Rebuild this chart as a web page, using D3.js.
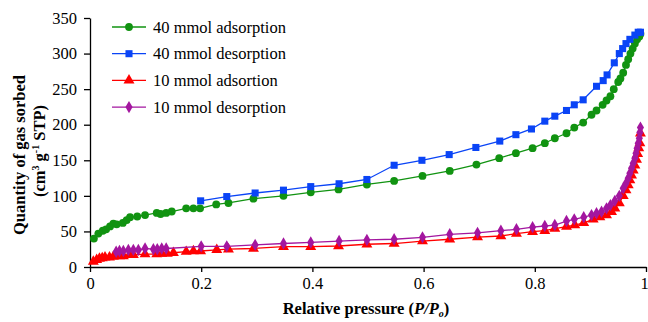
<!DOCTYPE html>
<html><head><meta charset="utf-8">
<script src="https://cdn.jsdelivr.net/npm/d3@7"></script>
<style>body{margin:0;background:#fff}svg{display:block}</style>
</head><body><div id="c"></div>
<script>
const xTicks=[0,0.2,0.4,0.6,0.8,1];
const xTickLabels=["0","0.2","0.4","0.6","0.8","1"];
const yTicks=[0,50,100,150,200,250,300,350];
const seriesNames=["40 mmol adsorption","40 mmol desorption","10 mmol adsorption","10 mmol desorption"];
const legendLabels=["40 mmol adsorption","40 mmol desorption","10 mmol adsortion","10 mmol desorption"];

const ads40P=[0.007,0.015,0.023,0.029,0.036,0.042,0.048,0.059,0.066,0.072,0.085,0.099,0.12,0.127,0.137,0.147,0.173,0.186,0.198,0.227,0.249,0.294,0.348,0.397,0.447,0.498,0.547,0.598,0.647,0.695,0.736,0.766,0.796,0.818,0.836,0.857,0.871,0.887,0.902,0.911,0.922,0.929,0.936,0.942,0.950,0.954,0.959,0.964,0.968,0.972,0.976,0.980,0.984,0.988,0.990];
const ads40V=[40,47,51,53,57,61,60,62,66,70,71,73,76,74.5,76,78,82.5,82.5,82.5,88,90,96,100,105,109,116,121,128,135,144,153,160,167,174,181,188,196,203,214,220,228,234,240,250,260,265,273,284,292,300,307,314,320,324,328];

const des40P=[0.199,0.246,0.297,0.348,0.397,0.448,0.498,0.547,0.597,0.646,0.694,0.737,0.766,0.794,0.818,0.836,0.857,0.871,0.887,0.911,0.923,0.930,0.943,0.952,0.958,0.964,0.971,0.980,0.986,0.990];
const des40V=[93,99,104,108,113,117,123,143,150,158,168,177,186,194,205,212,220,228,235,254,262,270,287,300,307,314,320,326,330,330];

const ads10P=[0.006,0.012,0.017,0.022,0.027,0.035,0.042,0.053,0.060,0.071,0.078,0.099,0.120,0.129,0.139,0.150,0.173,0.186,0.199,0.228,0.249,0.294,0.348,0.397,0.447,0.498,0.547,0.598,0.647,0.697,0.739,0.767,0.796,0.818,0.836,0.857,0.872,0.888,0.905,0.917,0.929,0.938,0.944,0.952,0.959,0.964,0.968,0.971,0.974,0.977,0.980,0.983,0.985,0.987,0.989,0.990];
const ads10V=[7.5,10,12,12.5,13.6,13.6,14.5,15.5,15.5,17,17,18,18,19,19,20,21.5,22.5,22.5,24,25,26,28.5,28.5,29.5,32,33,36.5,39,42,43.6,47,49.6,51,54,56.7,59,62,67,70,73,77.7,82.5,90,100,108,115,122,129,136,143,151,159,167,174,188];

const des10P=[0.047,0.053,0.060,0.069,0.078,0.087,0.099,0.114,0.121,0.129,0.137,0.200,0.246,0.297,0.348,0.397,0.448,0.498,0.547,0.598,0.647,0.697,0.739,0.767,0.796,0.818,0.836,0.857,0.871,0.888,0.902,0.911,0.920,0.929,0.936,0.944,0.952,0.959,0.964,0.968,0.971,0.974,0.977,0.980,0.982,0.984,0.986,0.988,0.989,0.990];
const des10V=[21.5,22.5,22.5,24,24,24,26,25,25,26,26,29,29,31,33,34.5,36.5,38,39,41.7,46,48,51,53,56,57.6,59,64.6,67,70,73,75.5,77.7,82.5,87,93,100,110.6,117.6,124.7,131.7,138.7,145.8,152.8,159.8,166.8,174,181,189,196];

const colors=["#119311","#0a44f6","#ff0000","#a3169f"];
const shapes=[d3.symbolCircle,d3.symbolSquare,d3.symbolTriangle,d3.symbolDiamond];
const sizes=[48,50,52,44];
const FONT="'Liberation Serif', 'Times New Roman', Times, serif";
const FS="16.5px";

const W=648,H=322,m={l:90};
const svg=d3.select("#c").append("svg").attr("width",W).attr("height",H).style("font-family",FONT);
const x=d3.scaleLinear().domain([0,1]).range([m.l,646]);
const y=d3.scaleLinear().domain([0,350]).range([267,18]);

const data=[[ads40P,ads40V],[des40P,des40V],[ads10P,ads10V],[des10P,des10V]].map((s,i)=>({name:seriesNames[i],pts:s[0].map((p,j)=>[p,s[1][j]])}));

const xa=svg.append("g").attr("transform","translate(0,267)").call(d3.axisBottom(x).tickValues(xTicks).tickFormat((d,i)=>xTickLabels[i]).tickSize(5).tickSizeOuter(0).tickPadding(5));
const ya=svg.append("g").attr("transform",`translate(${m.l},0)`).call(d3.axisLeft(y).tickValues(yTicks).tickSize(6).tickSizeOuter(0).tickPadding(7));
[xa,ya].forEach(a=>{a.attr("font-family",null).attr("font-size",null);a.selectAll("path,line").attr("stroke","#000").attr("stroke-width",1.3);a.selectAll("text").attr("fill","#000").style("font-family",FONT).style("font-size",FS);});
xa.selectAll(".tick:last-of-type text").attr("dx",-2);

const line=d3.line().x(d=>x(d[0])).y(d=>y(d[1]));
[2,3,0,1].forEach(i=>{
  const g=svg.append("g");
  g.append("path").datum(data[i].pts).attr("d",line).attr("fill","none").attr("stroke",colors[i]).attr("stroke-width",1.3);
  g.selectAll("path.m").data(data[i].pts).enter().append("path").attr("class","m")
    .attr("transform",d=>`translate(${x(d[0])},${y(d[1])})`)
    .attr("d",d3.symbol().type(shapes[i]).size(sizes[i])).attr("fill",colors[i]);
});

const lg=svg.append("g");
legendLabels.forEach((t,i)=>{
  const yy=27+i*26.7;
  lg.append("line").attr("x1",112).attr("x2",146).attr("y1",yy).attr("y2",yy).attr("stroke",colors[i]).attr("stroke-width",1.3);
  lg.append("path").attr("transform",`translate(129,${yy})`).attr("d",d3.symbol().type(shapes[i]).size(sizes[i])).attr("fill",colors[i]);
  lg.append("text").attr("x",153).attr("y",yy+5.5).style("font-family",FONT).style("font-size",FS).text(t);
});

const t1=svg.append("text").attr("transform","translate(25,155) rotate(-90)").attr("text-anchor","middle").style("font-family",FONT).style("font-size",FS).attr("font-weight","bold").text("Quantity of gas sorbed");
const t2=svg.append("text").attr("transform","translate(45,151) rotate(-90)").attr("text-anchor","middle").style("font-family",FONT).style("font-size",FS).attr("font-weight","bold");
t2.append("tspan").text("(cm");
t2.append("tspan").attr("dy",-6).style("font-size","10px").text("3");
t2.append("tspan").attr("dy",6).text(" g");
t2.append("tspan").attr("dy",-6).style("font-size","10px").text("-1");
t2.append("tspan").attr("dy",6).text(" STP)");

const xt=svg.append("text").attr("x",366).attr("y",314).attr("text-anchor","middle").style("font-family",FONT).style("font-size",FS).attr("font-weight","bold");
xt.append("tspan").text("Relative pressure (");
xt.append("tspan").attr("font-style","italic").text("P/P");
xt.append("tspan").attr("font-style","italic").style("font-size","10px").attr("dy",3).text("o");
xt.append("tspan").attr("dy",-3).text(")");
</script></body></html>
